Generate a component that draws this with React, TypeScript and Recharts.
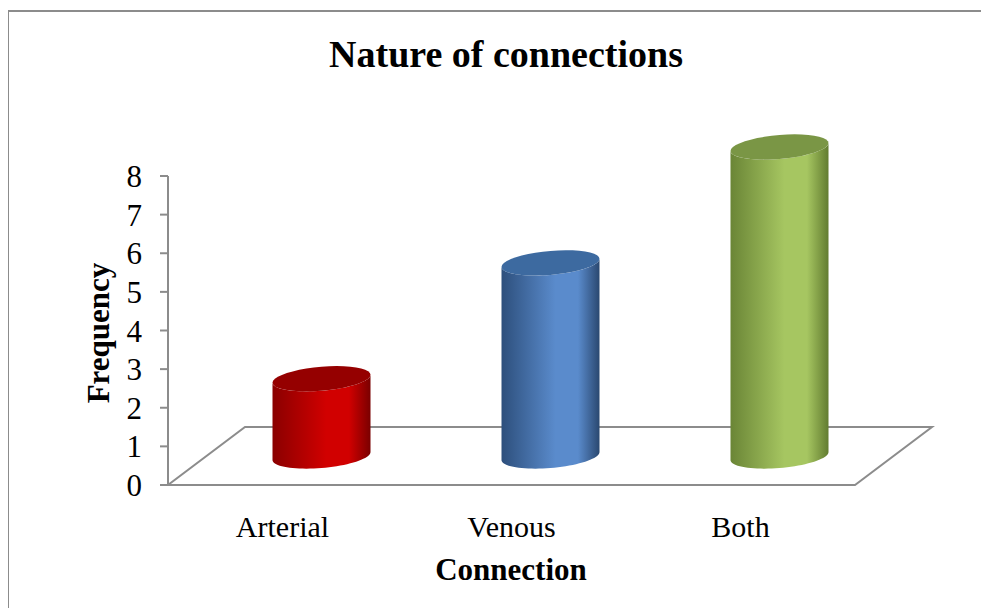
import React from 'react';
import { BarChart, Bar, XAxis, YAxis, Customized } from 'recharts';

// connection types and how often each one was seen
const categories = ['Arterial', 'Venous', 'Both'];
const frequencies = [2, 5, 8];
const yTicks = [0, 1, 2, 3, 4, 5, 6, 7, 8];

const data = categories.map((name, i) => ({ name, value: frequencies[i] }));

const SERIF = '"Times New Roman", "Liberation Serif", serif';
const GRID = '#8c8c8c';

// plot box + the fake 3d depth of the floor
const PLOT_LEFT = 168;
const PLOT_RIGHT = 855;
const PLOT_BOTTOM = 485;
const DEPTH_X = 77;
const DEPTH_Y = 58;

// body gradient: edge, highlight, far edge ; cap colour
const palette = [
  { edge: '#8a0000', mid: '#d10000', far: '#7a0000', cap: '#950000' },
  { edge: '#2d4f7c', mid: '#5a8bcc', far: '#2a4870', cap: '#3d6aa0' },
  { edge: '#6a8536', mid: '#a6c661', far: '#627c30', cap: '#7a9645' },
];

const Floor = () => (
  <path
    d={`M${PLOT_LEFT},${PLOT_BOTTOM} L${PLOT_RIGHT},${PLOT_BOTTOM} L${PLOT_RIGHT + DEPTH_X},${PLOT_BOTTOM - DEPTH_Y} L${PLOT_LEFT + DEPTH_X},${PLOT_BOTTOM - DEPTH_Y} Z`}
    fill="#fff"
    stroke={GRID}
    strokeWidth={2}
  />
);

// sheared ellipse so the cap meets the vertical sides with a slight tilt
const ellipsePt = (cx: number, cy: number, rx: number, ry: number, k: number, t: number) =>
  `${(cx + rx * Math.cos(t)).toFixed(2)},${(cy + ry * Math.sin(t) - k * Math.cos(t)).toFixed(2)}`;

const arc = (cx: number, cy: number, rx: number, ry: number, k: number, from: number, to: number) => {
  const pts: string[] = [];
  const n = 40;
  for (let i = 0; i <= n; i++) {
    pts.push(ellipsePt(cx, cy, rx, ry, k, from + ((to - from) * i) / n));
  }
  return pts;
};

const Cylinder = (props: any) => {
  const { x, y, width, height, index } = props;
  const c = palette[index % palette.length];
  const rx = width / 2;
  const cx = x + rx + DEPTH_X / 2;
  const top = y - DEPTH_Y / 2;
  const bottom = y + height - DEPTH_Y / 2;
  const ry = 12;
  const k = 4;

  const bottomArc = arc(cx, bottom, rx, ry, k, Math.PI, 0);
  const topArc = arc(cx, top, rx, ry, k, 0, Math.PI);
  const body = `M${bottomArc.join(' L')} L${topArc.join(' L')} Z`;
  const cap = `M${arc(cx, top, rx, ry, k, 0, Math.PI * 2).join(' L')} Z`;
  const gid = `cyl-body-${index}`;

  return (
    <g>
      <defs>
        <linearGradient id={gid} x1="0" y1="0" x2="1" y2="0">
          <stop offset="0%" stopColor={c.edge} />
          <stop offset="55%" stopColor={c.mid} />
          <stop offset="78%" stopColor={c.mid} />
          <stop offset="100%" stopColor={c.far} />
        </linearGradient>
      </defs>
      <path d={body} fill={`url(#${gid})`} />
      <path d={cap} fill={c.cap} />
    </g>
  );
};

const CategoryTick = ({ x, y, payload }: any) => (
  <text x={x} y={y} dy={52} textAnchor="middle" fontFamily={SERIF} fontSize={30} fill="#000">
    {payload.value}
  </text>
);

export default function App() {
  return (
    <div style={{ position: 'relative', margin: -8, width: 989, height: 616, overflow: 'hidden', background: '#fff' }}>
      <div
        style={{
          position: 'absolute',
          left: 7,
          top: 10,
          width: 1200,
          height: 800,
          borderTop: `2px solid ${GRID}`,
          borderLeft: `2px solid ${GRID}`,
        }}
      />
      <div
        style={{
          position: 'absolute',
          left: 206,
          top: 35,
          width: 600,
          textAlign: 'center',
          fontFamily: SERIF,
          fontWeight: 'bold',
          fontSize: 38,
          lineHeight: 1,
        }}
      >
        Nature of connections
      </div>
      <div style={{ position: 'absolute', left: 0, top: 0 }}>
        <BarChart
          width={989}
          height={616}
          data={data}
          margin={{ top: 176, right: 989 - PLOT_RIGHT, bottom: 0, left: 0 }}
        >
          <Customized component={<Floor />} />
          <XAxis
            dataKey="name"
            axisLine={false}
            tickLine={false}
            tickSize={0}
            tickMargin={0}
            height={616 - PLOT_BOTTOM}
            tick={<CategoryTick />}
            label={{
              content: () => (
                <text x={511} y={580} textAnchor="middle" fontFamily={SERIF} fontWeight="bold" fontSize={31} fill="#000">
                  Connection
                </text>
              ),
            }}
          />
          <YAxis
            width={PLOT_LEFT}
            domain={[0, 8]}
            ticks={yTicks}
            interval={0}
            tickSize={8}
            tickMargin={18}
            axisLine={{ stroke: GRID, strokeWidth: 2 }}
            tickLine={{ stroke: GRID, strokeWidth: 2 }}
            tick={{ fontFamily: SERIF, fontSize: 31, fill: '#000' }}
            label={{
              content: () => (
                <text
                  x={109}
                  y={333}
                  transform="rotate(-90 109 333)"
                  textAnchor="middle"
                  fontFamily={SERIF}
                  fontWeight="bold"
                  fontSize={31}
                  fill="#000"
                >
                  Frequency
                </text>
              ),
            }}
          />
          <Bar dataKey="value" barSize={98} isAnimationActive={false} shape={<Cylinder />} />
        </BarChart>
      </div>
    </div>
  );
}
